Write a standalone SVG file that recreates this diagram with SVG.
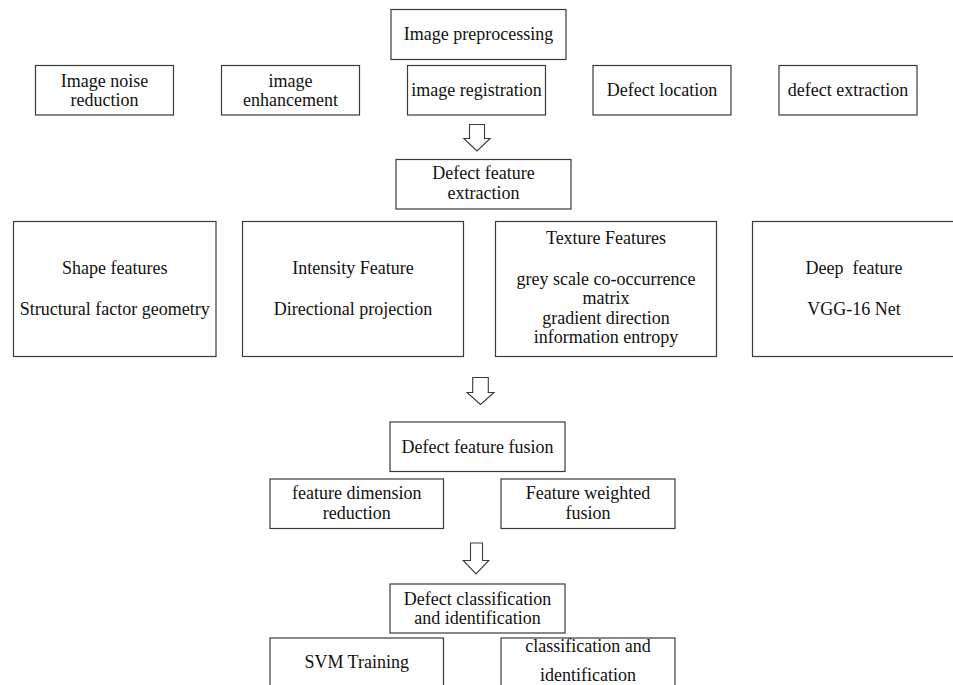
<svg xmlns="http://www.w3.org/2000/svg" width="953" height="685" viewBox="0 0 953 685">
<style>
.box{fill:#fff;stroke:#3a3a3a;stroke-width:1.2}
.t{font-family:"Liberation Serif","Times New Roman",serif;font-size:18px;fill:#111;text-anchor:middle}
.arr{fill:#fff;stroke:#3a3a3a;stroke-width:1.1;stroke-linejoin:miter}
</style>
<rect width="953" height="685" fill="#fff"/>
<g id="connectors">
<polygon class="arr" points="469.5,124.5 484.5,124.5 484.5,138.5 490.2,138.5 477,151 463.8,138.5 469.5,138.5"/>
<polygon class="arr" points="472.7,377.5 488.3,377.5 488.3,392.5 494,392.5 480.5,404.5 467,392.5 472.7,392.5"/>
<polygon class="arr" points="470.5,543 482.5,543 482.5,560.5 488.8,560.5 476,574 463.2,560.5 470.5,560.5"/>
</g>
<g id="preprocessing"><rect class="box" x="391" y="9.5" width="175" height="50"/><text class="t" x="478.5" y="40">Image preprocessing</text></g>
<g id="noise"><rect class="box" x="35.5" y="65.5" width="138" height="49.5"/><text class="t" x="104.5" y="86.5">Image noise</text><text class="t" x="104.5" y="106">reduction</text></g>
<g id="enhancement"><rect class="box" x="221.5" y="65.5" width="138" height="49.5"/><text class="t" x="290.5" y="86.5">image</text><text class="t" x="290.5" y="106">enhancement</text></g>
<g id="registration"><rect class="box" x="407.5" y="65.5" width="138" height="49.5"/><text class="t" x="476.5" y="95.5">image registration</text></g>
<g id="location"><rect class="box" x="593" y="65.5" width="138" height="49.5"/><text class="t" x="662" y="95.5">Defect location</text></g>
<g id="extraction"><rect class="box" x="779" y="65.5" width="138" height="49.5"/><text class="t" x="848" y="95.5">defect extraction</text></g>
<g id="feature-extraction"><rect class="box" x="396" y="159.5" width="175" height="49.5"/><text class="t" x="483.5" y="179">Defect feature</text><text class="t" x="483.5" y="199">extraction</text></g>
<g id="shape"><rect class="box" x="13.5" y="221.5" width="202.5" height="135"/><text class="t" x="114.7" y="274">Shape features</text><text class="t" x="114.7" y="315">Structural factor geometry</text></g>
<g id="intensity"><rect class="box" x="242.5" y="221.5" width="221" height="135"/><text class="t" x="353" y="274">Intensity Feature</text><text class="t" x="353" y="315">Directional projection</text></g>
<g id="texture"><rect class="box" x="495.5" y="221.5" width="221" height="135"/><text class="t" x="606" y="243.5">Texture Features</text><text class="t" x="606" y="285">grey scale co-occurrence</text><text class="t" x="606" y="304.3">matrix</text><text class="t" x="606" y="323.5">gradient direction</text><text class="t" x="606" y="342.7">information entropy</text></g>
<g id="deep"><rect class="box" x="752.5" y="221.5" width="203" height="135"/><text class="t" x="854" y="274" xml:space="preserve">Deep  feature</text><text class="t" x="854" y="315">VGG-16 Net</text></g>
<g id="fusion"><rect class="box" x="390" y="422" width="175" height="49.5"/><text class="t" x="477.5" y="452.5">Defect feature fusion</text></g>
<g id="dim-reduction"><rect class="box" x="270" y="479" width="173.5" height="49.5"/><text class="t" x="356.7" y="499">feature dimension</text><text class="t" x="356.7" y="519">reduction</text></g>
<g id="weighted"><rect class="box" x="501" y="479" width="174" height="49.5"/><text class="t" x="588" y="499">Feature weighted</text><text class="t" x="588" y="519">fusion</text></g>
<g id="classification"><rect class="box" x="390" y="584" width="175" height="49"/><text class="t" x="477.5" y="605">Defect classification</text><text class="t" x="477.5" y="624.3">and identification</text></g>
<g id="svm"><rect class="box" x="270" y="638" width="173.5" height="60"/><text class="t" x="356.7" y="668">SVM Training</text></g>
<g id="class-ident"><rect class="box" x="501" y="638" width="174" height="60"/><text class="t" x="588" y="651.7">classification and</text><text class="t" x="588" y="681">identification</text></g>
</svg>
